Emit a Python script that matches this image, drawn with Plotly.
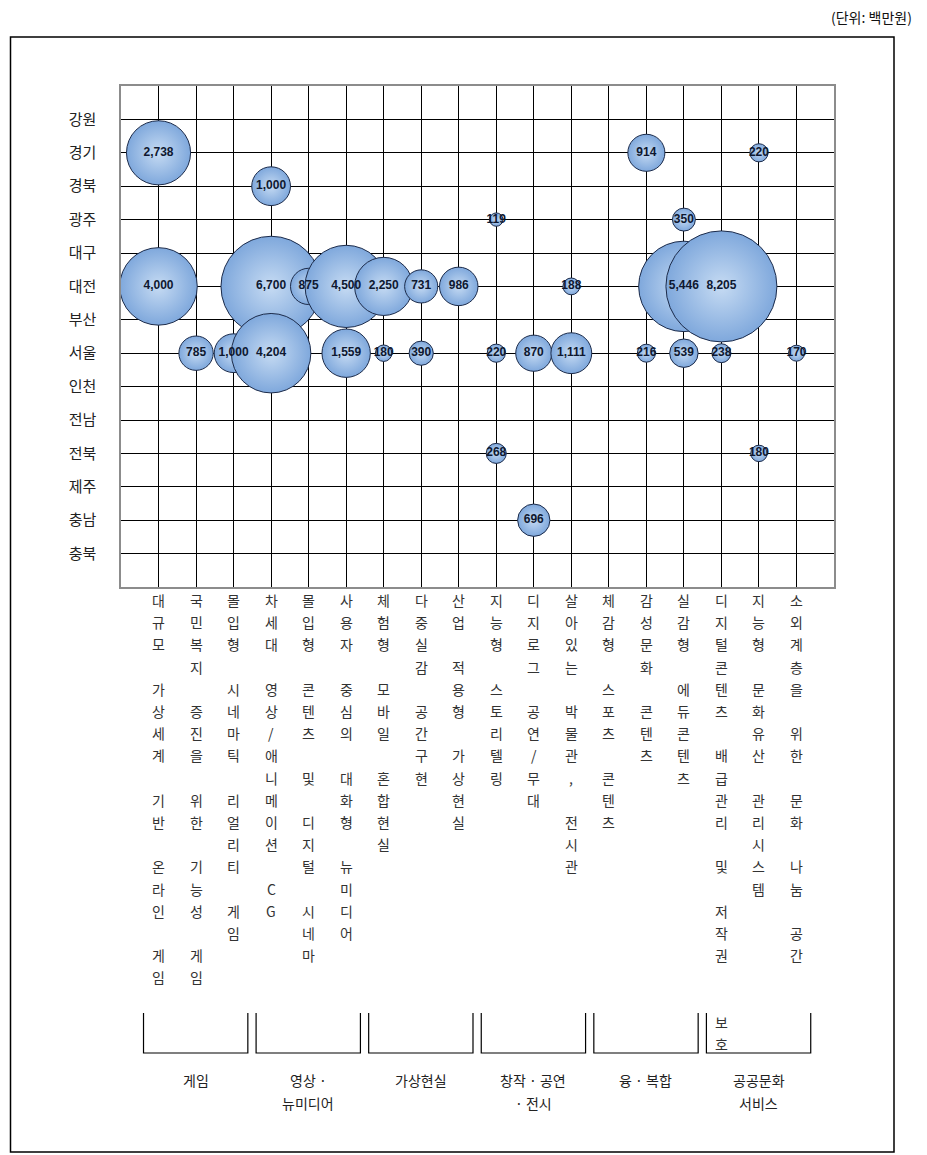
import plotly.graph_objects as go

# ---------------- data ----------------
regions = ["강원", "경기", "경북", "광주", "대구", "대전", "부산",
           "서울", "인천", "전남", "전북", "제주", "충남", "충북"]

categories = [
    "대규모 가상세계 기반 온라인 게임",
    "국민복지 증진을 위한 기능성 게임",
    "몰입형 시네마틱 리얼리티 게임",
    "차세대 영상/애니메이션 CG",
    "몰입형 콘텐츠 및 디지털 시네마",
    "사용자 중심의 대화형 뉴미디어",
    "체험형 모바일 혼합현실",
    "다중실감 공간구현",
    "산업 적용형 가상현실",
    "지능형 스토리텔링",
    "디지로그 공연/무대",
    "살아있는 박물관, 전시관",
    "체감형 스포츠 콘텐츠",
    "감성문화 콘텐츠",
    "실감형 에듀콘텐츠",
    "디지털콘텐츠 배급관리 및 저작권  보호",
    "지능형 문화유산 관리시스템",
    "소외계층을 위한 문화 나눔 공간",
]

# bubble data (category index 1-based, region, value in 백만원)
bubble_cat = [1, 1, 2, 3, 4, 4, 4, 5, 6, 6, 7, 7, 8, 8, 9,
              10, 10, 10, 11, 11, 12, 12, 14, 14, 15, 15, 15, 16, 16, 17, 17, 18]
bubble_region = ["경기", "대전", "서울", "서울", "경북", "대전", "서울", "대전", "대전", "서울",
                 "대전", "서울", "대전", "서울", "대전",
                 "광주", "서울", "전북", "서울", "충남", "대전", "서울",
                 "경기", "서울", "광주", "대전", "서울", "대전", "서울", "경기", "전북", "서울"]
bubble_value = [2738, 4000, 785, 1000, 1000, 6700, 4204, 875, 4500, 1559,
                2250, 180, 731, 390, 986,
                119, 220, 268, 870, 696, 188, 1111,
                914, 216, 350, 5446, 539, 8205, 238, 220, 180, 170]

group_names = ["게임", "영상 ·\n뉴미디어", "가상현실", "창작 · 공연\n· 전시", "융 · 복합", "공공문화\n서비스"]
group_sizes = [3, 3, 3, 3, 3, 3]

unit_text = "(단위: 백만원)"

# ---------------- layout geometry ----------------
W, H = 927, 1155
ML, MR, MT, MB = 121, 93, 86, 568
PW, PH = W - ML - MR, H - MT - MB
X0, X1 = 0, len(categories) + 1
MAX_D = 111

def py(Y):
    return (H - MB - Y) / PH

def pxp(X):
    return (X - ML) / PW

def xv(v):
    return (v - X0) / (X1 - X0)

KFONT = "Noto Sans CJK KR, Noto Sans, sans-serif"

fig = go.Figure()

sizeref = 2.0 * max(bubble_value) / (MAX_D ** 2)
ymap = {r: i + 1 for i, r in enumerate(regions)}

for c in range(1, len(categories) + 1):
    xs, ys, vs = [], [], []
    for cc, rg, v in zip(bubble_cat, bubble_region, bubble_value):
        if cc == c:
            xs.append(cc)
            ys.append(ymap[rg])
            vs.append(v)
    if not xs:
        continue
    fig.add_trace(go.Scatter(
        x=xs, y=ys, mode="markers",
        marker=dict(size=vs, sizemode="area", sizeref=sizeref,
                    color="#7fa8dc",
                    gradient=dict(type="radial", color="#c6dbf3"),
                    line=dict(color="#1c2b4a", width=1), opacity=1),
        hoverinfo="skip", showlegend=False,
    ))

fig.add_trace(go.Scatter(
    x=bubble_cat, y=[ymap[r] for r in bubble_region], mode="text",
    text=[f"{v:,}" for v in bubble_value],
    textposition="middle center",
    textfont=dict(family="Liberation Sans Narrow, Liberation Sans, Arial", size=12,
                  color="#0e1830", weight="bold"),
    hoverinfo="skip", showlegend=False,
))

annotations = []
# vertical category labels (one character per row)
ROW0, ROWH = 600, 22.2
for i, label in enumerate(categories):
    for r, ch in enumerate(label):
        if ch == " ":
            continue
        annotations.append(dict(
            x=xv(i + 1), y=py(ROW0 + ROWH * r), xref="paper", yref="paper",
            text=ch, showarrow=False, xanchor="center", yanchor="middle",
            font=dict(family=KFONT, size=14, color="#333333"),
        ))

# group brackets and labels
shapes = []
start = 1
for name, n in zip(group_names, group_sizes):
    first, last = start, start + n - 1
    left, right = xv(first - 0.4), xv(last + 0.38)
    top, bot = py(1013), py(1053)
    shapes.append(dict(type="path", xref="paper", yref="paper",
                       path=f"M {left},{top} L {left},{bot} L {right},{bot} L {right},{top}",
                       line=dict(color="black", width=1.2)))
    cx = (left + right) / 2
    for k, line in enumerate(name.split("\n")):
        annotations.append(dict(
            x=cx, y=py(1080 + 23 * k), xref="paper", yref="paper",
            text=line, showarrow=False, xanchor="center", yanchor="middle",
            font=dict(family=KFONT, size=14, color="#222222"),
        ))
    start += n

# outer frame
shapes.append(dict(type="rect", xref="paper", yref="paper",
                   x0=pxp(10.5), x1=pxp(894), y0=py(1152), y1=py(37),
                   line=dict(color="black", width=1.5)))

annotations.append(dict(
    x=pxp(914), y=py(17), xref="paper", yref="paper", text=unit_text,
    showarrow=False, xanchor="right", yanchor="middle",
    font=dict(family=KFONT, size=14, color="#111111"),
))

fig.update_layout(
    width=W, height=H,
    margin=dict(l=ML, r=MR, t=MT, b=MB, autoexpand=False),
    paper_bgcolor="white", plot_bgcolor="white",
    showlegend=False,
    shapes=shapes, annotations=annotations,
    xaxis=dict(range=[X0, X1], tickvals=list(range(1, len(categories) + 1)),
               showticklabels=False, ticks="", showgrid=True, gridcolor="black",
               gridwidth=1, zeroline=False, showline=True, linecolor="#8c8c8c",
               linewidth=1.5, mirror=True, fixedrange=True),
    yaxis=dict(range=[len(regions) + 1, 0], tickvals=list(range(1, len(regions) + 1)),
               ticktext=regions, ticks="", showgrid=True, gridcolor="black",
               gridwidth=1, zeroline=False, showline=True, linecolor="#8c8c8c",
               linewidth=1.5, mirror=True, ticklabelstandoff=20,
               tickfont=dict(family=KFONT, size=15, color="#222222"), fixedrange=True),
)

fig.write_html("out.html")
